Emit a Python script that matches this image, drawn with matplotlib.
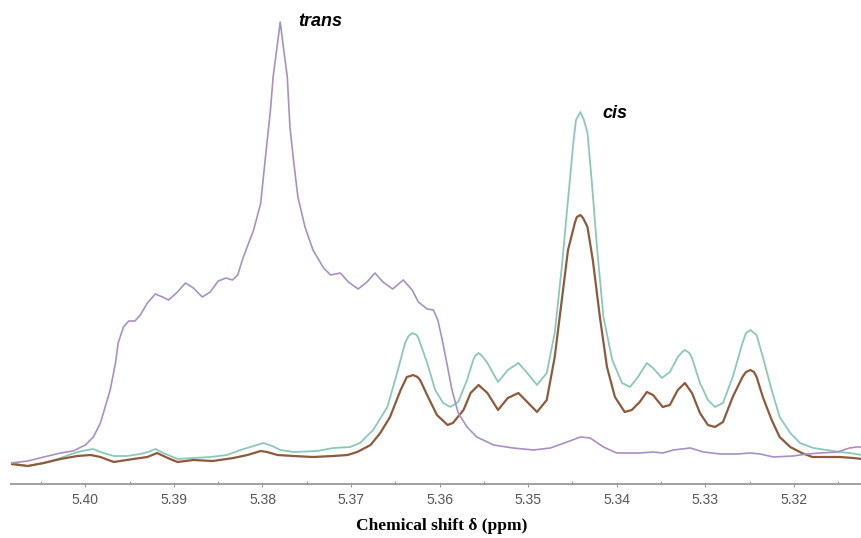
import matplotlib.pyplot as plt
from matplotlib.ticker import MultipleLocator

# trans sample (purple)
trans_ppm = [5.4084, 5.4065, 5.4047, 5.4028, 5.4014, 5.4000, 5.3991, 5.3983, 5.3972, 5.3966,
             5.3963, 5.3957, 5.3951, 5.3944, 5.3938, 5.3930, 5.3921, 5.3913, 5.3906, 5.3896,
             5.3887, 5.3878, 5.3868, 5.3859, 5.3850, 5.3841, 5.3834, 5.3828, 5.3822, 5.3810,
             5.3802, 5.3797, 5.3791, 5.3788, 5.3783, 5.3780, 5.3777, 5.3772, 5.3769, 5.3765,
             5.3760, 5.3752, 5.3743, 5.3731, 5.3723, 5.3712, 5.3703, 5.3692, 5.3682, 5.3673,
             5.3664, 5.3653, 5.3641, 5.3631, 5.3624, 5.3614, 5.3607, 5.3602, 5.3597, 5.3591,
             5.3586, 5.3579, 5.3569, 5.3558, 5.3539, 5.3517, 5.3494, 5.3475, 5.3456, 5.3441,
             5.3430, 5.3415, 5.3400, 5.3374, 5.3359, 5.3348, 5.3336, 5.3317, 5.3302, 5.3283,
             5.3264, 5.3249, 5.3238, 5.3223, 5.3201, 5.3185, 5.3170, 5.3151, 5.3137, 5.3129,
             5.3123]
trans_int = [21, 23, 27, 31, 33, 39, 47, 61, 94, 121,
             141, 157, 163, 163, 169, 181, 190, 187, 184, 192,
             201, 196, 187, 192, 203, 206, 204, 209, 226, 254,
             281, 324, 374, 407, 441, 462, 441, 407, 357, 324,
             287, 257, 234, 216, 209, 211, 202, 195, 202, 211,
             202, 195, 204, 194, 182, 175, 174, 164, 144, 117,
             94, 71, 57, 47, 39, 36, 34, 36, 42, 47,
             46, 37, 31, 31, 32, 31, 34, 36, 32, 30,
             30, 31, 30, 27, 28, 30, 31, 32, 36, 37,
             37]

# cis sample (teal)
cis_ppm = [5.4084, 5.4065, 5.4047, 5.4028, 5.4009, 5.3998, 5.3991, 5.3983, 5.3968, 5.3953,
           5.3938, 5.3929, 5.3921, 5.3912, 5.3896, 5.3878, 5.3859, 5.3840, 5.3825, 5.3810,
           5.3799, 5.3789, 5.3780, 5.3765, 5.3738, 5.3720, 5.3701, 5.3690, 5.3675, 5.3659,
           5.3648, 5.3639, 5.3635, 5.3631, 5.3626, 5.3624, 5.3614, 5.3605, 5.3596, 5.3588,
           5.3579, 5.3569, 5.3562, 5.3560, 5.3556, 5.3552, 5.3546, 5.3534, 5.3523, 5.3511,
           5.3501, 5.3490, 5.3479, 5.3470, 5.3462, 5.3455, 5.3449, 5.3446, 5.3441, 5.3437,
           5.3433, 5.3428, 5.3422, 5.3415, 5.3405, 5.3394, 5.3385, 5.3376, 5.3366, 5.3359,
           5.3349, 5.3340, 5.3331, 5.3326, 5.3323, 5.3318, 5.3315, 5.3306, 5.3297, 5.3289,
           5.3280, 5.3269, 5.3258, 5.3254, 5.3249, 5.3245, 5.3242, 5.3235, 5.3225, 5.3216,
           5.3204, 5.3193, 5.3178, 5.3163, 5.3148, 5.3137, 5.3123]
cis_int = [21, 18, 21, 26, 32, 34, 35, 32, 28, 28,
           30, 32, 35, 31, 25, 26, 27, 29, 34, 38,
           41, 38, 34, 32, 33, 36, 37, 41, 54, 77,
           111, 141, 148, 151, 149, 146, 121, 94, 81, 77,
           82, 104, 124, 128, 131, 128, 121, 102, 114, 121,
           111, 99, 111, 151, 217, 284, 341, 364, 372, 364,
           351, 301, 234, 167, 124, 101, 97, 107, 121, 116,
           106, 112, 127, 132, 134, 131, 126, 101, 84, 77,
           81, 107, 141, 151, 154, 151, 149, 127, 94, 67,
           51, 41, 36, 34, 32, 31, 29]

# third sample (brown)
mix_ppm = [5.4084, 5.4065, 5.4047, 5.4028, 5.4009, 5.3994, 5.3983, 5.3968, 5.3946, 5.3930,
           5.3919, 5.3907, 5.3896, 5.3878, 5.3856, 5.3833, 5.3817, 5.3802, 5.3795, 5.3783,
           5.3765, 5.3743, 5.3720, 5.3704, 5.3693, 5.3678, 5.3667, 5.3656, 5.3644, 5.3637,
           5.3633, 5.3630, 5.3625, 5.3622, 5.3613, 5.3603, 5.3591, 5.3585, 5.3573, 5.3565,
           5.3556, 5.3546, 5.3534, 5.3523, 5.3511, 5.3501, 5.3490, 5.3479, 5.3470, 5.3462,
           5.3455, 5.3447, 5.3445, 5.3441, 5.3438, 5.3433, 5.3427, 5.3419, 5.3411, 5.3402,
           5.3391, 5.3383, 5.3374, 5.3366, 5.3359, 5.3348, 5.3340, 5.3331, 5.3323, 5.3315,
           5.3306, 5.3297, 5.3289, 5.3280, 5.3269, 5.3258, 5.3254, 5.3249, 5.3245, 5.3242,
           5.3235, 5.3225, 5.3216, 5.3204, 5.3191, 5.3179, 5.3163, 5.3148, 5.3133, 5.3123]
mix_int = [20, 18, 21, 25, 28, 29, 27, 22, 25, 27,
           31, 26, 22, 24, 23, 26, 29, 33, 32, 29,
           28, 27, 28, 29, 32, 39, 51, 67, 94, 107,
           108, 109, 107, 104, 87, 69, 59, 61, 74, 91,
           99, 91, 74, 86, 91, 82, 72, 84, 127, 184,
           234, 262, 267, 269, 266, 257, 224, 167, 117, 87,
           72, 74, 82, 92, 89, 77, 79, 94, 101, 91,
           71, 59, 57, 62, 87, 107, 112, 114, 112, 107,
           87, 64, 47, 37, 31, 27, 27, 27, 26, 25]

fig = plt.figure(figsize=(8.62, 5.38), dpi=100)
ax = fig.add_axes([11 / 862, 54 / 538, 851 / 862, 484 / 538])

ax.plot(cis_ppm, cis_int, color='#8ac8ba', lw=1.3, solid_joinstyle='round')
ax.plot(mix_ppm, mix_int, color='#8e5a3c', lw=1.6, solid_joinstyle='round')
ax.plot(trans_ppm, trans_int, color='#a891c2', lw=1.2, solid_joinstyle='round')

ax.set_xlim(5.4084, 5.3123)
ax.set_ylim(0, 484)
ax.xaxis.set_minor_locator(MultipleLocator(0.005))
ax.tick_params(axis='x', which='major', direction='out', length=2.5, width=0.8,
               color='#999999', labelsize=10, labelcolor='#555555', pad=4)
ax.tick_params(axis='x', which='minor', direction='in', length=2, width=0.8, color='#999999')
ax.set_xticks([5.40, 5.39, 5.38, 5.37, 5.36, 5.35, 5.34, 5.33, 5.32])
ax.set_xticklabels(['5.40', '5.39', '5.38', '5.37', '5.36', '5.35', '5.34', '5.33', '5.32'],
                   family='Liberation Sans')
ax.set_yticks([])
for side in ['left', 'top', 'right']:
    ax.spines[side].set_visible(False)
ax.spines['bottom'].set_color('#a0a0a0')
ax.spines['bottom'].set_linewidth(1.4)

ax.text(5.3735, 463, 'trans', fontsize=13, fontweight='bold', fontstyle='italic',
        family='Liberation Sans', va='center', ha='center')
ax.text(5.3402, 371, 'cis', fontsize=13, fontweight='bold', fontstyle='italic',
        family='Liberation Sans', va='center', ha='center')

fig.text(442 / 862, 1 - 526 / 538, 'Chemical shift δ (ppm)', fontsize=12.5,
         fontweight='bold', family='Liberation Serif', ha='center', va='center')

fig.savefig('out.png', dpi=100)
